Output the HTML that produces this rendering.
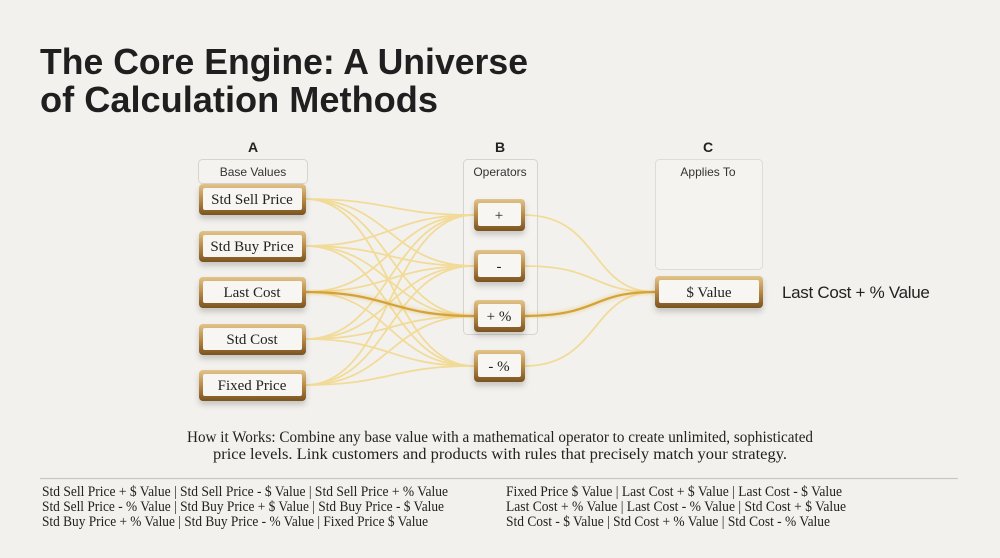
<!DOCTYPE html>
<html><head><meta charset="utf-8"><style>
html,body{margin:0;padding:0;background:#f2f1ed;}
svg{display:block}
.ser{font-family:"Liberation Serif",serif}
.sans{font-family:"Liberation Sans",sans-serif}
</style></head><body>
<svg width="1000" height="558" viewBox="0 0 1000 558" xmlns="http://www.w3.org/2000/svg">
<defs>
<linearGradient id="gold" x1="0" y1="0" x2="0" y2="1">
<stop offset="0" stop-color="#e2c48a"/><stop offset="0.5" stop-color="#b88a45"/><stop offset="1" stop-color="#7a5320"/>
</linearGradient>
<filter id="sh" x="-20%" y="-30%" width="140%" height="180%"><feDropShadow dx="0" dy="4" stdDeviation="3" flood-color="#000" flood-opacity="0.18"/></filter>
<filter id="glow"><feGaussianBlur stdDeviation="1.5"/></filter>
</defs>
<rect width="1000" height="558" fill="#f2f1ed"/>
<text class="sans" x="40" y="74" font-size="36" font-weight="bold" fill="#1f1f1f" textLength="488" lengthAdjust="spacingAndGlyphs">The Core Engine: A Universe</text>
<text class="sans" x="40" y="112" font-size="36" font-weight="bold" fill="#1f1f1f" textLength="398" lengthAdjust="spacingAndGlyphs">of Calculation Methods</text>

<text class="sans" x="253" y="152" font-size="14" font-weight="bold" text-anchor="middle" fill="#222">A</text>
<text class="sans" x="500" y="152" font-size="14" font-weight="bold" text-anchor="middle" fill="#222">B</text>
<text class="sans" x="708" y="152" font-size="14" font-weight="bold" text-anchor="middle" fill="#222">C</text>

<rect x="198.5" y="159.5" width="109" height="24" rx="4" fill="#f4f3ef" stroke="#d6d4ce"/>
<text class="sans" x="253" y="176" font-size="12" text-anchor="middle" fill="#333">Base Values</text>
<rect x="463.5" y="159.5" width="74" height="175" rx="4" fill="#f4f3ef" stroke="#d6d4ce"/>
<text class="sans" x="500" y="176" font-size="12" text-anchor="middle" fill="#333">Operators</text>
<rect x="655.5" y="159.5" width="107" height="110" rx="4" fill="#f4f3ef" stroke="#dedcd6"/>
<text class="sans" x="708" y="176" font-size="12" text-anchor="middle" fill="#333">Applies To</text>

<g fill="none" stroke="#f3d990" stroke-width="1.8" opacity="0.9">
<path d="M305 199 C390 199 390 215 474 215"/><path d="M305 199 C390 199 390 266 474 266"/><path d="M305 199 C390 199 390 316 474 316"/><path d="M305 199 C390 199 390 366 474 366"/>
<path d="M305 246 C390 246 390 215 474 215"/><path d="M305 246 C390 246 390 266 474 266"/><path d="M305 246 C390 246 390 316 474 316"/><path d="M305 246 C390 246 390 366 474 366"/>
<path d="M305 292 C390 292 390 215 474 215"/><path d="M305 292 C390 292 390 266 474 266"/><path d="M305 292 C390 292 390 366 474 366"/>
<path d="M305 339 C390 339 390 215 474 215"/><path d="M305 339 C390 339 390 266 474 266"/><path d="M305 339 C390 339 390 316 474 316"/><path d="M305 339 C390 339 390 366 474 366"/>
<path d="M305 385 C390 385 390 215 474 215"/><path d="M305 385 C390 385 390 266 474 266"/><path d="M305 385 C390 385 390 316 474 316"/><path d="M305 385 C390 385 390 366 474 366"/>
<path d="M524 215 C600 215 590 292 655 292"/><path d="M524 266 C600 266 590 292 655 292"/><path d="M524 366 C600 366 590 292 655 292"/>
</g>
<g fill="none" stroke="#e7b94a" stroke-width="5" opacity="0.35" filter="url(#glow)">
<path d="M305 292 C390 292 390 316 474 316"/><path d="M524 316 C600 316 590 292 655 292"/>
</g>
<g fill="none" stroke="#d4a23a" stroke-width="2.2">
<path d="M305 292 C390 292 390 316 474 316"/><path d="M524 316 C600 316 590 292 655 292"/>
</g>

<g filter="url(#sh)">
<rect x="199" y="184" width="107" height="31" rx="4" fill="url(#gold)"/>
<rect x="199" y="231" width="107" height="31" rx="4" fill="url(#gold)"/>
<rect x="199" y="277" width="107" height="31" rx="4" fill="url(#gold)"/>
<rect x="199" y="324" width="107" height="31" rx="4" fill="url(#gold)"/>
<rect x="199" y="370" width="107" height="31" rx="4" fill="url(#gold)"/>
<rect x="474" y="199" width="51" height="32" rx="4" fill="url(#gold)"/>
<rect x="474" y="250" width="51" height="32" rx="4" fill="url(#gold)"/>
<rect x="474" y="300" width="51" height="32" rx="4" fill="url(#gold)"/>
<rect x="474" y="350" width="51" height="32" rx="4" fill="url(#gold)"/>
<rect x="655" y="276" width="108" height="32" rx="4" fill="url(#gold)"/>
</g>
<g fill="#f7f6f2">
<rect x="203" y="188" width="99" height="22" rx="2"/>
<rect x="203" y="235" width="99" height="22" rx="2"/>
<rect x="203" y="281" width="99" height="22" rx="2"/>
<rect x="203" y="328" width="99" height="22" rx="2"/>
<rect x="203" y="374" width="99" height="22" rx="2"/>
<rect x="478" y="203" width="43" height="23" rx="2"/>
<rect x="478" y="254" width="43" height="23" rx="2"/>
<rect x="478" y="304" width="43" height="23" rx="2"/>
<rect x="478" y="354" width="43" height="23" rx="2"/>
<rect x="659" y="280" width="100" height="23" rx="2"/>
</g>
<g class="ser" font-size="15" fill="#222" text-anchor="middle">
<text x="252" y="204">Std Sell Price</text>
<text x="252" y="251">Std Buy Price</text>
<text x="252" y="297">Last Cost</text>
<text x="252" y="344">Std Cost</text>
<text x="252" y="390">Fixed Price</text>
<text x="499" y="220">+</text>
<text x="499" y="271">-</text>
<text x="499" y="321">+ %</text>
<text x="499" y="371">- %</text>
<text x="709" y="297">$ Value</text>
</g>
<text class="sans" x="782" y="298" font-size="17" fill="#222" letter-spacing="-0.3">Last Cost + % Value</text>

<g class="ser" font-size="16" fill="#222" text-anchor="middle">
<text x="500" y="442" textLength="626" lengthAdjust="spacingAndGlyphs">How it Works: Combine any base value with a mathematical operator to create unlimited, sophisticated</text>
<text x="500" y="459" textLength="574" lengthAdjust="spacingAndGlyphs">price levels. Link customers and products with rules that precisely match your strategy.</text>
</g>
<line x1="40" y1="478.5" x2="958" y2="478.5" stroke="#c9c7c1" stroke-width="1.2"/>
<g class="ser" font-size="15" fill="#222">
<text x="42" y="496" textLength="406" lengthAdjust="spacingAndGlyphs">Std Sell Price + $ Value | Std Sell Price - $ Value | Std Sell Price + % Value</text>
<text x="42" y="511" textLength="402" lengthAdjust="spacingAndGlyphs">Std Sell Price - % Value | Std Buy Price + $ Value | Std Buy Price - $ Value</text>
<text x="42" y="526" textLength="386" lengthAdjust="spacingAndGlyphs">Std Buy Price + % Value | Std Buy Price - % Value | Fixed Price $ Value</text>
<text x="506" y="496" textLength="336" lengthAdjust="spacingAndGlyphs">Fixed Price $ Value | Last Cost + $ Value | Last Cost - $ Value</text>
<text x="506" y="511" textLength="340" lengthAdjust="spacingAndGlyphs">Last Cost  + % Value | Last Cost - % Value | Std Cost + $ Value</text>
<text x="506" y="526" textLength="324" lengthAdjust="spacingAndGlyphs">Std Cost - $ Value | Std Cost + % Value | Std Cost - % Value</text>
</g>
</svg>
</body></html>
